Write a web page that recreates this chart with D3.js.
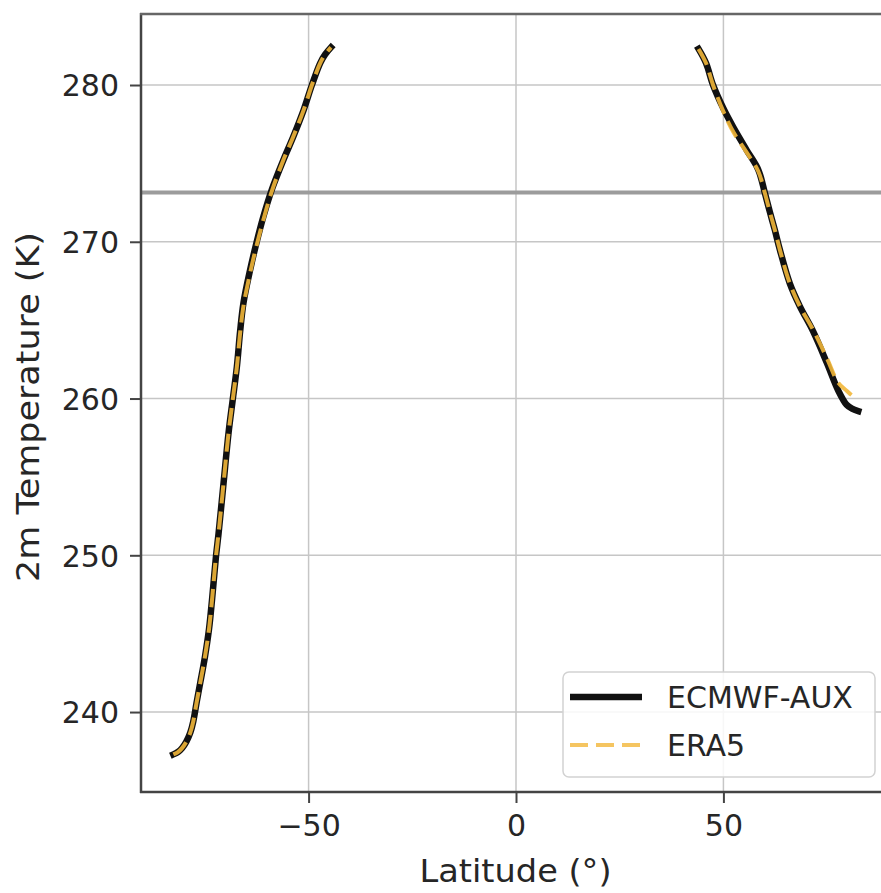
<!DOCTYPE html>
<html>
<head>
<meta charset="utf-8">
<script src="https://cdn.jsdelivr.net/npm/d3@7"></script>
<style>
  html, body { margin: 0; padding: 0; background: #fff; }
  svg { display: block; font-family: "DejaVu Sans", sans-serif; }
</style>
</head>
<body>
<svg id="chart" width="881" height="893"></svg>
<script>
// ---- Data ----
const ecmwfSouthLat = [-82.6, -81.5, -80.5, -79.5, -78.5, -77.8, -77.0, -76.1, -75.0, -74.0, -73.3, -72.3, -71.7, -70.5, -69.3, -68.3, -67.3, -66.5, -65.7, -64.1, -62.5, -60.9, -58.9, -56.1, -53.7, -51.2, -49.2, -47.2, -46.0, -44.6];
const ecmwfSouthT   = [237.3, 237.45, 237.7, 238.1, 238.7, 239.4, 240.6, 241.9, 243.5, 245.3, 247.1, 250.0, 251.4, 254.6, 257.8, 259.9, 262.0, 264.3, 266.1, 268.2, 270.0, 271.6, 273.3, 275.2, 276.7, 278.4, 280.0, 281.4, 281.95, 282.4];
const era5SouthT    = [237.3, 237.45, 237.7, 238.1, 238.7, 239.4, 240.6, 241.9, 243.5, 245.3, 247.1, 250.0, 251.4, 254.6, 257.8, 259.9, 262.0, 264.2, 265.9, 268.0, 269.8, 271.4, 273.2, 275.2, 276.7, 278.4, 280.0, 281.4, 281.95, 282.4];

const ecmwfNorthLat = [44.0, 45.8, 47.5, 50.0, 52.4, 55.6, 58.4, 60.0, 61.2, 62.4, 63.6, 66.0, 68.4, 71.6, 74.9, 77.7, 79.7, 81.0, 82.5];
const ecmwfNorthT   = [282.3, 281.4, 280.0, 278.5, 277.3, 275.85, 274.6, 273.1, 271.9, 270.75, 269.5, 267.35, 265.9, 264.3, 262.3, 260.5, 259.6, 259.35, 259.2];
const era5NorthLat  = [44.0, 45.8, 47.5, 50.0, 52.4, 55.6, 58.4, 60.0, 61.2, 62.4, 63.6, 66.0, 68.4, 71.6, 74.9, 77.7, 79.7, 81.0, 82.3];
const era5NorthT    = [282.3, 281.4, 280.0, 278.3, 277.0, 275.7, 274.5, 273.1, 271.9, 270.75, 269.5, 267.35, 265.9, 264.4, 262.6, 261.0, 260.5, 260.2, 260.0];

const freezingK = 273.15;
const xTicks = [-50, 0, 50];
const yTicks = [240, 250, 260, 270, 280];
const seriesNames = ["ECMWF-AUX", "ERA5"];
const xLabel = "Latitude (°)";
const yLabel = "2m Temperature (K)";

// ---- Layout ----
const svg = d3.select("#chart");
const pLeft = 141, pRight = 891, pTop = 14, pBottom = 792;
const x = d3.scaleLinear().domain([-90.4, 90.4]).range([pLeft, pRight]);
const y = d3.scaleLinear().domain([234.9, 284.53]).range([pBottom, pTop]);

const zip = (a, b) => a.map((v, i) => [v, b[i]]);

// grid
const grid = svg.append("g");
grid.selectAll("line.gx").data(xTicks).join("line")
  .attr("x1", d => x(d)).attr("x2", d => x(d)).attr("y1", pTop).attr("y2", pBottom)
  .attr("stroke", "#c6c6c6").attr("stroke-width", 1.5);
grid.selectAll("line.gy").data(yTicks).join("line")
  .attr("x1", pLeft).attr("x2", pRight).attr("y1", d => y(d)).attr("y2", d => y(d))
  .attr("stroke", "#c6c6c6").attr("stroke-width", 1.5);

// freezing line
svg.append("line")
  .attr("x1", pLeft).attr("x2", pRight).attr("y1", y(freezingK)).attr("y2", y(freezingK))
  .attr("stroke", "#9c9c9c").attr("stroke-width", 4);

// lines
const line = d3.line().x(d => x(d[0])).y(d => y(d[1])).curve(d3.curveCatmullRom.alpha(0.5));
const ecmwfSegs = [zip(ecmwfSouthLat, ecmwfSouthT), zip(ecmwfNorthLat, ecmwfNorthT)];
const era5Segs = [zip(ecmwfSouthLat, era5SouthT), zip(era5NorthLat, era5NorthT)];

svg.append("g").selectAll("path").data(ecmwfSegs).join("path")
  .attr("d", line).attr("fill", "none").attr("stroke", "#111")
  .attr("stroke-width", 6.5).attr("stroke-linecap", "square").attr("stroke-linejoin", "round");
svg.append("g").selectAll("path").data(era5Segs).join("path")
  .attr("d", line).attr("fill", "none").attr("stroke", "#f2b73a").attr("stroke-opacity", 0.9)
  .attr("stroke-width", 4).attr("stroke-dasharray", "18,8");

// spines
const spineColor = "#444";
svg.append("line").attr("x1", pLeft).attr("x2", pLeft).attr("y1", pTop - 1).attr("y2", pBottom + 1)
  .attr("stroke", spineColor).attr("stroke-width", 2.5);
svg.append("line").attr("x1", pLeft - 1).attr("x2", pRight).attr("y1", pBottom).attr("y2", pBottom)
  .attr("stroke", spineColor).attr("stroke-width", 2.5);
svg.append("line").attr("x1", pLeft - 1).attr("x2", pRight).attr("y1", pTop).attr("y2", pTop)
  .attr("stroke", "#666").attr("stroke-width", 2.5);

// axes
const fmt = d3.format("d");
const xAxis = svg.append("g").attr("transform", `translate(0,${pBottom})`)
  .call(d3.axisBottom(x).tickValues(xTicks).tickSize(11).tickPadding(12).tickFormat(d => fmt(d)));
const yAxis = svg.append("g").attr("transform", `translate(${pLeft},0)`)
  .call(d3.axisLeft(y).tickValues(yTicks).tickSize(11).tickPadding(11).tickFormat(d => fmt(d)));
[xAxis, yAxis].forEach(g => {
  g.select(".domain").remove();
  g.selectAll(".tick line").attr("stroke", spineColor).attr("stroke-width", 2);
  g.selectAll(".tick text").attr("fill", "#262626").style("font-size", "30px")
    .style("font-family", "DejaVu Sans, sans-serif");
});
yAxis.selectAll(".tick text").attr("dy", "0.36em");

// axis labels
svg.append("text").attr("x", 515.5).attr("y", 882).attr("text-anchor", "middle")
  .attr("fill", "#262626").style("font-size", "32px")
  .attr("textLength", 192).attr("lengthAdjust", "spacingAndGlyphs")
  .text(xLabel);
svg.append("text").attr("transform", "translate(39,407) rotate(-90)").attr("text-anchor", "middle")
  .attr("fill", "#262626").style("font-size", "32px")
  .attr("textLength", 350).attr("lengthAdjust", "spacingAndGlyphs")
  .text(yLabel);

// legend
const lg = svg.append("g");
lg.append("rect").attr("x", 563).attr("y", 672).attr("width", 312).attr("height", 105)
  .attr("rx", 6).attr("fill", "#fff").attr("fill-opacity", 0.85)
  .attr("stroke", "#d2d2d2").attr("stroke-width", 1.5);
const legendY = [697, 745];
lg.append("line").attr("x1", 570).attr("x2", 642).attr("y1", legendY[0]).attr("y2", legendY[0])
  .attr("stroke", "#111").attr("stroke-width", 6.5).attr("stroke-linecap", "butt");
lg.append("line").attr("x1", 570).attr("x2", 642).attr("y1", legendY[1]).attr("y2", legendY[1])
  .attr("stroke", "#f2b73a").attr("stroke-opacity", 0.8).attr("stroke-width", 4).attr("stroke-dasharray", "18,8");
lg.selectAll("text").data(seriesNames).join("text")
  .attr("x", 667).attr("y", (d, i) => legendY[i]).attr("dy", "0.36em")
  .attr("fill", "#262626").style("font-size", "30px").text(d => d);
</script>
</body>
</html>
